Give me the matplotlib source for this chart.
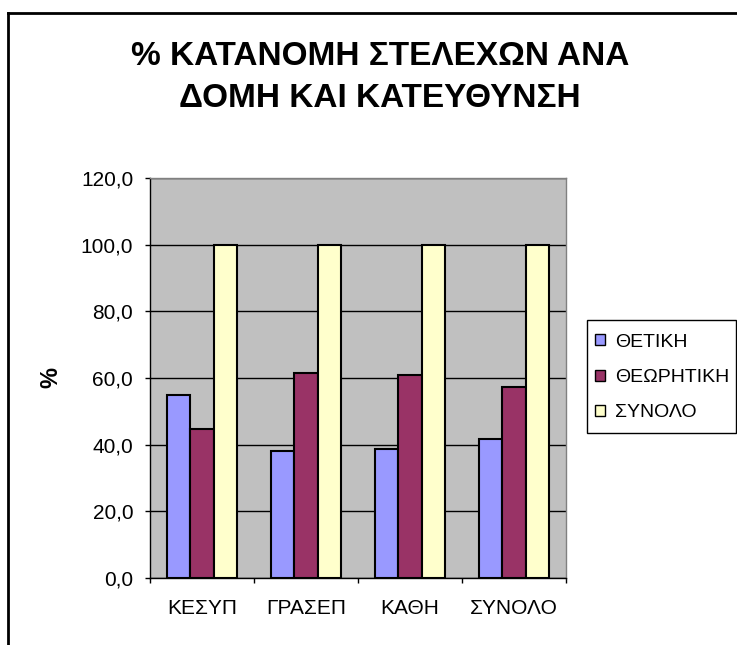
import matplotlib
matplotlib.use("Agg")
import matplotlib.pyplot as plt
from matplotlib.lines import Line2D
from matplotlib.patches import Rectangle
from matplotlib.ticker import FuncFormatter, FixedLocator
import numpy as np

plt.rcParams['font.family'] = ['Liberation Sans', 'DejaVu Sans']

title = "% ΚΑΤΑΝΟΜΗ ΣΤΕΛΕΧΩΝ ΑΝΑ\nΔΟΜΗ ΚΑΙ ΚΑΤΕΥΘΥΝΣΗ"
categories = ["ΚΕΣΥΠ", "ΓΡΑΣΕΠ", "ΚΑΘΗ", "ΣΥΝΟΛΟ"]
series_names = ["ΘΕΤΙΚΗ", "ΘΕΩΡΗΤΙΚΗ", "ΣΥΝΟΛΟ"]
thetiki = [55.0, 38.1, 38.8, 41.8]
theoritiki = [44.8, 61.6, 60.9, 57.3]
synolo = [100.0, 100.0, 100.0, 100.0]
yticks = [0, 20, 40, 60, 80, 100, 120]
colors = ["#9999FF", "#993366", "#FFFFCC"]

W, H = 737, 645
fig = plt.figure(figsize=(W / 100, H / 100), dpi=100)
ax = fig.add_axes([150 / W, 1 - 578 / H, (566 - 150) / W, (578 - 178) / H])
ax.set_facecolor("#C0C0C0")

x = np.arange(len(categories))
bw = 0.222
for i, (vals, name, c) in enumerate(zip([thetiki, theoritiki, synolo], series_names, colors)):
    ax.bar(x + (i - 1) * bw, vals, width=bw, color=c, edgecolor="black",
           linewidth=1.5, label=name, zorder=3)

ax.set_xlim(-0.5, len(categories) - 0.5)
ax.set_ylim(0, 120)
ax.set_yticks(yticks)
ax.yaxis.set_major_formatter(FuncFormatter(lambda v, p: f"{v:.1f}".replace(".", ",")))
ax.grid(axis="y", color="black", linewidth=1.0, zorder=1)
ax.set_axisbelow(True)

ax.set_xticks(x)
ax.set_xticklabels(categories)
ax.xaxis.set_minor_locator(FixedLocator(np.arange(-0.5, len(categories), 1.0)))
ax.tick_params(axis="x", which="major", length=0, pad=15, labelsize=15)
ax.tick_params(axis="x", which="minor", length=3.6, width=1, color="black")
ax.tick_params(axis="y", length=3.6, width=1, pad=8.5, labelsize=15)

for s in ["left", "bottom"]:
    ax.spines[s].set_color("black")
    ax.spines[s].set_linewidth(1.0)
for s in ["top", "right"]:
    ax.spines[s].set_color("#808080")
    ax.spines[s].set_linewidth(1.0)

ax.set_ylabel("%", fontsize=17, fontweight="bold")
ax.yaxis.set_label_coords((62 - 150) / 416, 0.5)

fig.text(380 / W, 1 - 77.5 / H, title, ha="center", va="center", fontsize=24,
         fontweight="bold", linespacing=1.46)

leg = ax.legend(loc="center left", bbox_to_anchor=(595 / W, 1 - 377.5 / H),
                bbox_transform=fig.transFigure, frameon=False,
                fontsize=14, handlelength=0.5, handleheight=0.5,
                handletextpad=0.55, labelspacing=0.95, borderpad=0, borderaxespad=0)
for h in leg.legend_handles:
    h.set_linewidth(1.0)
fig.add_artist(Rectangle((587 / W, 1 - 433 / H), 149 / W, 113 / H,
                         transform=fig.transFigure, fill=False,
                         edgecolor="black", linewidth=1.0))

# outer chart border
fig.add_artist(Line2D([8 / W, 8 / W], [0, 1 - 13 / H], transform=fig.transFigure,
                      color="black", linewidth=2))
fig.add_artist(Line2D([8 / W, 1], [1 - 13 / H, 1 - 13 / H], transform=fig.transFigure,
                      color="black", linewidth=2))

fig.savefig("out.png", dpi=100)
